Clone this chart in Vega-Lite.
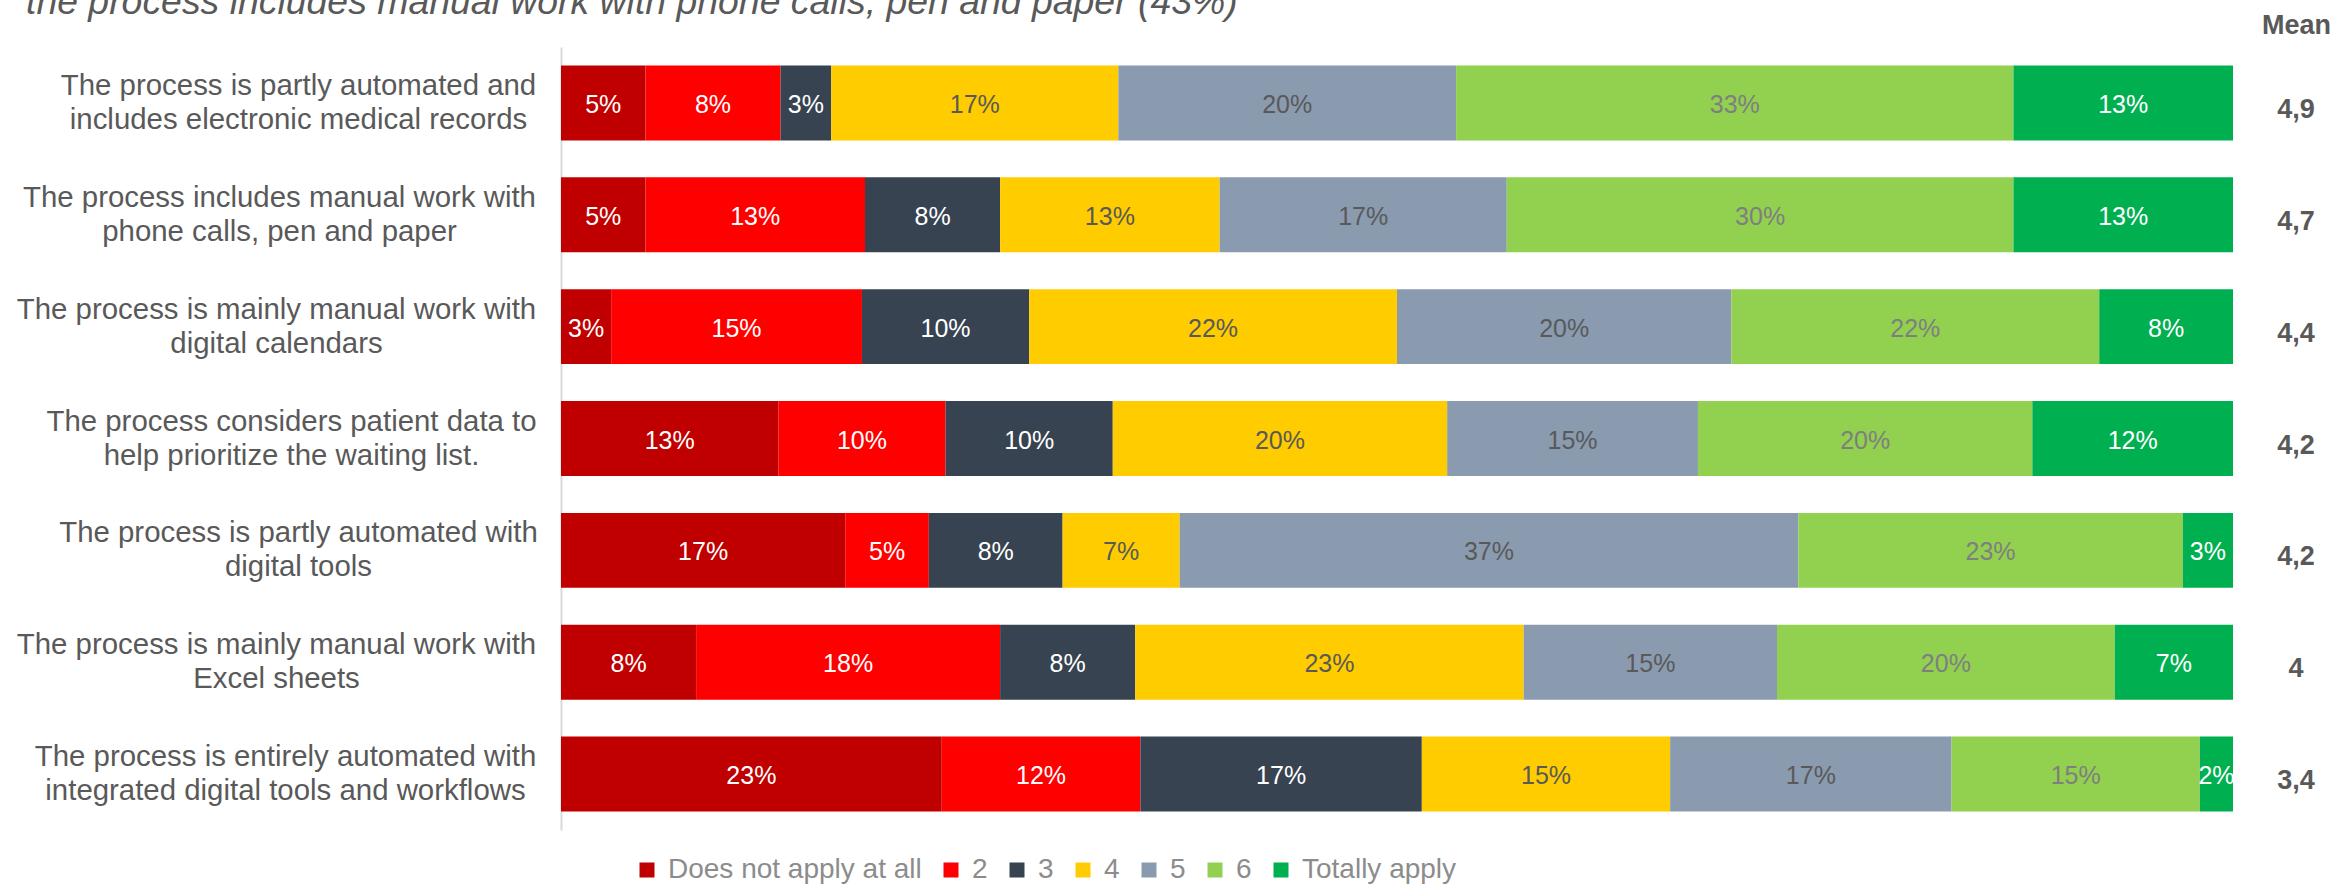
{
  "$schema": "https://vega.github.io/schema/vega-lite/v6.json",
  "width": 1672,
  "height": 783,
  "autosize": {"type": "none"},
  "padding": {"left": 561, "top": 47, "right": 103, "bottom": 55},
  "background": "white",
  "config": {"view": {"stroke": null}, "font": "Liberation Sans"},
  "title": {
    "text": "the process includes manual work with phone calls, pen and paper (43%)",
    "frame": "group",
    "anchor": "start",
    "orient": "top",
    "dx": -535,
    "dy": 40,
    "offset": 0,
    "baseline": "alphabetic",
    "font": "Liberation Sans",
    "fontSize": 37.4,
    "fontStyle": "italic",
    "fontWeight": "normal",
    "color": "#595959"
  },
  "datasets": {
    "stmts": [
      {"s": 1, "statement": "The process is partly automated and|includes electronic medical records", "mean": "4,9"},
      {"s": 2, "statement": "The process includes manual work with|phone calls, pen and paper", "mean": "4,7"},
      {"s": 3, "statement": "The process is mainly manual work with|digital calendars", "mean": "4,4"},
      {"s": 4, "statement": "The process considers patient data to|help prioritize the waiting list.", "mean": "4,2"},
      {"s": 5, "statement": "The process is partly automated with|digital tools", "mean": "4,2"},
      {"s": 6, "statement": "The process is mainly manual work with|Excel sheets", "mean": "4"},
      {"s": 7, "statement": "The process is entirely automated with|integrated digital tools and workflows", "mean": "3,4"}
    ],
    "resp": [
      {"s": 1, "lvl": 1, "level": "Does not apply at all", "share": 0.05},
      {"s": 1, "lvl": 2, "level": "2", "share": 0.08},
      {"s": 1, "lvl": 3, "level": "3", "share": 0.03},
      {"s": 1, "lvl": 4, "level": "4", "share": 0.17},
      {"s": 1, "lvl": 5, "level": "5", "share": 0.20},
      {"s": 1, "lvl": 6, "level": "6", "share": 0.33},
      {"s": 1, "lvl": 7, "level": "Totally apply", "share": 0.13},
      {"s": 2, "lvl": 1, "level": "Does not apply at all", "share": 0.05},
      {"s": 2, "lvl": 2, "level": "2", "share": 0.13},
      {"s": 2, "lvl": 3, "level": "3", "share": 0.08},
      {"s": 2, "lvl": 4, "level": "4", "share": 0.13},
      {"s": 2, "lvl": 5, "level": "5", "share": 0.17},
      {"s": 2, "lvl": 6, "level": "6", "share": 0.30},
      {"s": 2, "lvl": 7, "level": "Totally apply", "share": 0.13},
      {"s": 3, "lvl": 1, "level": "Does not apply at all", "share": 0.03},
      {"s": 3, "lvl": 2, "level": "2", "share": 0.15},
      {"s": 3, "lvl": 3, "level": "3", "share": 0.10},
      {"s": 3, "lvl": 4, "level": "4", "share": 0.22},
      {"s": 3, "lvl": 5, "level": "5", "share": 0.20},
      {"s": 3, "lvl": 6, "level": "6", "share": 0.22},
      {"s": 3, "lvl": 7, "level": "Totally apply", "share": 0.08},
      {"s": 4, "lvl": 1, "level": "Does not apply at all", "share": 0.13},
      {"s": 4, "lvl": 2, "level": "2", "share": 0.10},
      {"s": 4, "lvl": 3, "level": "3", "share": 0.10},
      {"s": 4, "lvl": 4, "level": "4", "share": 0.20},
      {"s": 4, "lvl": 5, "level": "5", "share": 0.15},
      {"s": 4, "lvl": 6, "level": "6", "share": 0.20},
      {"s": 4, "lvl": 7, "level": "Totally apply", "share": 0.12},
      {"s": 5, "lvl": 1, "level": "Does not apply at all", "share": 0.17},
      {"s": 5, "lvl": 2, "level": "2", "share": 0.05},
      {"s": 5, "lvl": 3, "level": "3", "share": 0.08},
      {"s": 5, "lvl": 4, "level": "4", "share": 0.07},
      {"s": 5, "lvl": 5, "level": "5", "share": 0.37},
      {"s": 5, "lvl": 6, "level": "6", "share": 0.23},
      {"s": 5, "lvl": 7, "level": "Totally apply", "share": 0.03},
      {"s": 6, "lvl": 1, "level": "Does not apply at all", "share": 0.08},
      {"s": 6, "lvl": 2, "level": "2", "share": 0.18},
      {"s": 6, "lvl": 3, "level": "3", "share": 0.08},
      {"s": 6, "lvl": 4, "level": "4", "share": 0.23},
      {"s": 6, "lvl": 5, "level": "5", "share": 0.15},
      {"s": 6, "lvl": 6, "level": "6", "share": 0.20},
      {"s": 6, "lvl": 7, "level": "Totally apply", "share": 0.07},
      {"s": 7, "lvl": 1, "level": "Does not apply at all", "share": 0.23},
      {"s": 7, "lvl": 2, "level": "2", "share": 0.12},
      {"s": 7, "lvl": 3, "level": "3", "share": 0.17},
      {"s": 7, "lvl": 4, "level": "4", "share": 0.15},
      {"s": 7, "lvl": 5, "level": "5", "share": 0.17},
      {"s": 7, "lvl": 6, "level": "6", "share": 0.15},
      {"s": 7, "lvl": 7, "level": "Totally apply", "share": 0.02}
    ]
  },
  "layer": [
    {
      "data": {"name": "resp"},
      "transform": [
        {"lookup": "s", "from": {"data": {"name": "stmts"}, "key": "s", "fields": ["statement"]}},
        {"stack": "share", "groupby": ["s"], "sort": [{"field": "lvl", "order": "ascending"}], "as": ["x0", "x1"], "offset": "normalize"},
        {"calculate": "(datum.x0 + datum.x1) / 2", "as": "xm"}
      ],
      "layer": [
        {
          "mark": {"type": "bar"},
          "encoding": {
            "x": {"field": "x0", "type": "quantitative", "scale": {"domain": [0, 1], "nice": false, "zero": true}, "axis": null},
            "x2": {"field": "x1"},
            "y": {
              "field": "statement", "type": "nominal",
              "sort": {"field": "s", "op": "min", "order": "ascending"},
              "scale": {"paddingInner": 0.33, "paddingOuter": 0.165},
              "axis": {
                "title": "Mean",
                "titleAngle": 0,
                "titleX": 1735,
                "titleY": -14,
                "titleAlign": "center",
                "titleBaseline": "alphabetic",
                "titleFont": "Liberation Sans",
                "titleFontSize": 27,
                "titleFontWeight": "bold",
                "titleColor": "#595959",
                "labelExpr": "split(datum.label, '|')",
                "labelAlign": "center",
                "labelBaseline": "middle",
                "labelOffset": -17,
                "labelPadding": {
                  "condition": [
                    {"test": "indexof(datum.value, 'electronic') >= 0", "value": 263},
                    {"test": "indexof(datum.value, 'phone') >= 0", "value": 282},
                    {"test": "indexof(datum.value, 'calendars') >= 0", "value": 285},
                    {"test": "indexof(datum.value, 'patient') >= 0", "value": 270},
                    {"test": "indexof(datum.value, 'partly automated with') >= 0", "value": 263},
                    {"test": "indexof(datum.value, 'Excel') >= 0", "value": 285}
                  ],
                  "value": 276
                },
                "labelFont": "Liberation Sans",
                "labelFontSize": 29.4,
                "labelColor": "#595959",
                "labelLineHeight": 34,
                "labelLimit": 0,
                "ticks": false,
                "tickSize": 0,
                "grid": false,
                "domain": true,
                "domainColor": "#d9d9d9",
                "domainWidth": 2
              }
            },
            "color": {
              "field": "level", "type": "nominal",
              "scale": {
                "domain": ["Does not apply at all", "2", "3", "4", "5", "6", "Totally apply"],
                "range": ["#C00000", "#FF0000", "#374351", "#FFCC00", "#8A9BB0", "#92D050", "#00B050"]
              },
              "legend": {
                "orient": "none",
                "legendX": 72,
                "legendY": 809,
                "direction": "horizontal",
                "columns": 7,
                "title": null,
                "symbolType": "square",
                "symbolSize": 225,
                "symbolStrokeWidth": 0,
                "labelFont": "Liberation Sans",
                "labelFontSize": 28,
                "labelColor": "#8c8c8c",
                "labelOffset": 7,
                "labelLimit": 0,
                "columnPadding": 15,
                "padding": 0
              }
            }
          }
        },
        {
          "mark": {"type": "text", "font": "Liberation Sans", "fontSize": 25, "baseline": "alphabetic", "align": "center", "dy": 10},
          "encoding": {
            "x": {"field": "xm", "type": "quantitative"},
            "y": {"field": "statement", "type": "nominal", "sort": {"field": "s", "op": "min", "order": "ascending"}},
            "text": {"field": "share", "type": "quantitative", "format": ".0%"},
            "color": {
              "condition": [
                {"test": "datum.level == '4' || datum.level == '5'", "value": "#595959"},
                {"test": "datum.level == '6'", "value": "#7f7f7f"}
              ],
              "value": "#ffffff"
            }
          }
        }
      ]
    },
    {
      "data": {"name": "stmts"},
      "mark": {"type": "text", "font": "Liberation Sans", "fontSize": 27, "fontWeight": "bold", "color": "#595959", "baseline": "alphabetic", "align": "center", "dy": 15},
      "encoding": {
        "x": {"datum": 1.0377, "type": "quantitative"},
        "y": {"field": "statement", "type": "nominal", "sort": {"field": "s", "op": "min", "order": "ascending"}},
        "text": {"field": "mean", "type": "nominal"}
      }
    }
  ]
}
